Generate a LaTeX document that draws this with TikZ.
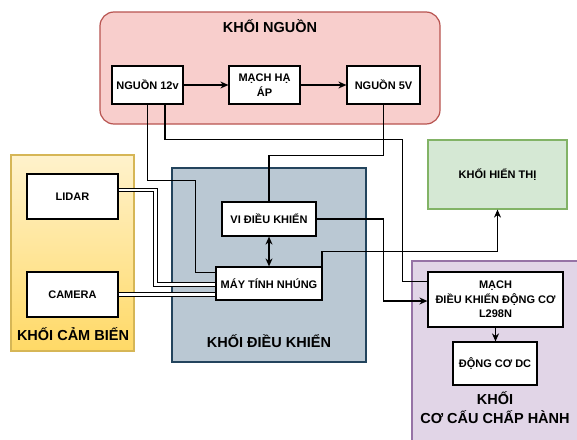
\documentclass[tikz,border=0pt]{standalone}
\usepackage{fontspec}
\setmainfont{Liberation Sans}
\usetikzlibrary{arrows.meta,calc,positioning,shadows}
\definecolor{nguonfill}{HTML}{F8CECC}
\definecolor{nguondraw}{HTML}{B85450}
\definecolor{camtop}{HTML}{FFF2CC}
\definecolor{cambot}{HTML}{FFD966}
\definecolor{camdraw}{HTML}{D6B656}
\definecolor{dkfill}{HTML}{BAC8D3}
\definecolor{dkdraw}{HTML}{23445D}
\definecolor{htfill}{HTML}{D5E8D4}
\definecolor{htdraw}{HTML}{82B366}
\definecolor{ccfill}{HTML}{E1D5E7}
\definecolor{ccdraw}{HTML}{9673A6}

\begin{document}
\begin{tikzpicture}[x=1pt,y=-1pt,
  box/.style={draw=black, fill=white, line width=1.2pt, inner sep=0pt, align=center,
    font=\fontsize{11}{14.5}\selectfont\bfseries,
    drop shadow={shadow xshift=1.2pt, shadow yshift=-1.2pt, opacity=0.3}},
  block/.style={line width=1.2pt, inner sep=0pt},
  title/.style={font=\fontsize{14.5}{19}\selectfont\bfseries, align=center},
  wire/.style={line width=1.3pt},
  link/.style={double, double distance=2.6pt, line width=0.9pt},
  >={Stealth[length=8pt,width=7pt]}]
\clip (0,0) rectangle (577,439);
\fill[white] (0,0) rectangle (577,439);

% cac khoi lon
\node[block, draw=nguondraw, fill=nguonfill, rounded corners=14pt,
  minimum width=340pt, minimum height=112pt] (nguon) at (270,68) {};
\node[block, draw=camdraw, top color=camtop, bottom color=cambot,
  minimum width=123pt, minimum height=196pt] (camBien) at (72.5,253) {};
\node[block, draw=dkdraw, fill=dkfill,
  minimum width=194pt, minimum height=194pt] (dieuKhien) at (269,265) {};
\node[block, draw=ccdraw, fill=ccfill,
  minimum width=178pt, minimum height=189pt] (coCau) at (501,355.5) {};

\node[title] (nguonT) at (270,26) {KHỐI NGUỒN};
\node[title] (camT) at (73,334) {KHỐI CẢM BIẾN};
\node[title] (dkT) at (269,341) {KHỐI ĐIỀU KHIỂN};
\node[title] (ccT) at (495,407.5) {KHỐI\\CƠ CẤU CHẤP HÀNH};

% cac module
\node[box, minimum width=71pt, minimum height=38pt] (n12) at (147.5,85) {NGUỒN 12v};
\node[box, minimum width=71pt, minimum height=38pt] (hap) at (264.5,85) {MẠCH HẠ\\ÁP};
\node[box, minimum width=73pt, minimum height=38pt] (n5) at (383.5,85) {NGUỒN 5V};
\node[box, minimum width=91pt, minimum height=45pt] (lidar) at (72.5,196.5) {LIDAR};
\node[box, minimum width=91pt, minimum height=45pt] (camera) at (72.5,294.5) {CAMERA};
\node[box, minimum width=94pt, minimum height=34pt] (vdk) at (269,219) {VI ĐIỀU KHIỂN};
\node[box, minimum width=106pt, minimum height=33pt] (mtn) at (269,283.5) {MÁY TÍNH NHÚNG};
\node[box, draw=htdraw, fill=htfill, minimum width=139pt, minimum height=69pt] (ht) at (497.5,174.5) {KHỐI HIỂN THỊ};
\node[box, minimum width=135pt, minimum height=55pt] (mdk) at (495.5,299.5) {MẠCH\\ĐIỀU KHIỂN ĐỘNG CƠ\\L298N};
\node[box, minimum width=84pt, minimum height=43pt] (dc) at (495,363.5) {ĐỘNG CƠ DC};

% day noi
\draw[wire,->] (n12) -- (hap);
\draw[wire,->] (hap) -- (n5);
\draw[wire] ($(n12.south)+(17.5,0)$) -- ++(0,35) -| ($(mdk.north west)+(-25,10)$) -- ($(mdk.north west)+(0,10)$);
\draw[wire] (n12.south) -- ++(0,76) -| ($(mtn.north west)+(-20,6)$) -- ($(mtn.north west)+(0,6)$);
\draw[wire] (n5.south) -- ++(0,51) -| (vdk.north);
\draw[link] ($(lidar.east)+(0,-6.5)$) -- ++(37,0) |- ($(mtn.west)+(0,1)$);
\draw[link] (camera.east) -- (camera.east -| mtn.west);
\draw[wire,->] (vdk.east) -- ++(67,0) |- ($(mdk.west)+(0,1.5)$);
\draw[wire,->] ($(mtn.north east)+(-0.5,0)$) -- ++(0,-15) -| (ht.south);
\draw[wire,<->] (vdk) -- (mtn);
\draw[wire,->] (mdk.south) -- (mdk.south |- dc.north);
\end{tikzpicture}
\end{document}
